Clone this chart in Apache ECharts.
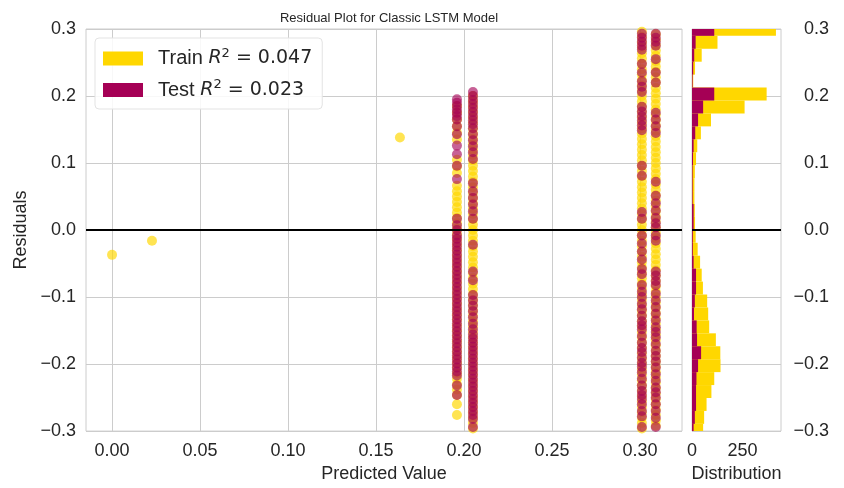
<!DOCTYPE html>
<html><head><meta charset="utf-8">
<script src="https://cdn.jsdelivr.net/npm/echarts@6/dist/echarts.min.js"></script>
<style>html,body{margin:0;padding:0;background:#fff}#c{width:844px;height:488px}</style>
</head><body><div id="c"></div>
<script>
const chartTitle = 'Residual Plot for Classic LSTM Model';
const trainR2 = 0.047, testR2 = 0.023;
const xTicks = [0, 0.05, 0.10, 0.15, 0.20, 0.25, 0.30];

// predicted-value columns
const colX = [0.196, 0.2051, 0.3011, 0.309];

// train residuals per column
const trainA = [0.185,0.175,0.165,0.155,0.145,0.135,0.105,0.095,0.085,0.066,0.058,0.05,0.042,0.034,0.026,0.018,0.01,0.002,-0.006,-0.014,-0.022,-0.03,-0.038,-0.046,-0.054,-0.062,-0.07,-0.078,-0.086,-0.094,-0.102,-0.11,-0.118,-0.126,-0.134,-0.142,-0.15,-0.158,-0.166,-0.174,-0.182,-0.19,-0.198,-0.206,-0.214,-0.222,-0.23,-0.238,-0.246,-0.26,-0.276];
const trainB = [0.2,0.192,0.184,0.176,0.168,0.16,0.152,0.144,0.136,0.128,0.12,0.112,0.104,0.096,0.088,0.08,0.072,0.064,0.056,0.048,0.04,0.032,0.024,0.016,0.008,0.0,-0.008,-0.016,-0.024,-0.032,-0.04,-0.048,-0.056,-0.064,-0.072,-0.08,-0.088,-0.096,-0.104,-0.112,-0.12,-0.128,-0.136,-0.144,-0.152,-0.16,-0.168,-0.176,-0.184,-0.192,-0.2,-0.208,-0.216,-0.224,-0.232,-0.24,-0.248,-0.256,-0.264,-0.272,-0.28,-0.288,-0.296];
const trainC = [0.296,0.288,0.28,0.272,0.264,0.256,0.248,0.24,0.232,0.224,0.216,0.208,0.2,0.192,0.184,0.176,0.168,0.16,0.152,0.144,0.136,0.128,0.12,0.112,0.104,0.096,0.088,0.08,0.072,0.064,0.056,0.048,0.04,0.032,0.024,0.016,0.008,0.0,-0.008,-0.016,-0.024,-0.032,-0.04,-0.048,-0.056,-0.064,-0.072,-0.08,-0.088,-0.096,-0.104,-0.112,-0.12,-0.128,-0.136,-0.144,-0.152,-0.16,-0.168,-0.176,-0.184,-0.192,-0.2,-0.208,-0.216,-0.224,-0.232,-0.24,-0.248,-0.256,-0.264,-0.272,-0.28,-0.288,-0.296];
const trainD = [0.292,0.284,0.276,0.268,0.26,0.252,0.244,0.236,0.228,0.22,0.212,0.204,0.196,0.188,0.18,0.172,0.164,0.156,0.148,0.14,0.132,0.124,0.116,0.108,0.1,0.092,0.084,0.076,0.068,0.06,0.052,0.044,0.036,0.028,0.02,0.012,0.004,-0.004,-0.012,-0.02,-0.028,-0.036,-0.044,-0.052,-0.06,-0.068,-0.076,-0.084,-0.092,-0.1,-0.108,-0.116,-0.124,-0.132,-0.14,-0.148,-0.156,-0.164,-0.172,-0.18,-0.188,-0.196,-0.204,-0.212,-0.22,-0.228,-0.236,-0.244,-0.252,-0.26,-0.268,-0.276,-0.284,-0.292];
// isolated train points
const trainOutX = [0.0, 0.0227, 0.1636];
const trainOutY = [-0.037, -0.016, 0.138];

// test residuals per column
const testA = [0.195,0.19,0.185,0.18,0.175,0.17,0.165,0.155,0.143,0.126,0.113,0.096,0.076,0.017,0.007,0.0,-0.008,-0.013,-0.019,-0.025,-0.031,-0.037,-0.043,-0.049,-0.055,-0.061,-0.067,-0.073,-0.079,-0.085,-0.091,-0.097,-0.103,-0.109,-0.115,-0.121,-0.127,-0.133,-0.139,-0.145,-0.151,-0.157,-0.163,-0.169,-0.175,-0.181,-0.187,-0.193,-0.199,-0.205,-0.211,-0.217,-0.232,-0.246];
const testB = [0.206,0.2,0.194,0.188,0.182,0.176,0.17,0.164,0.158,0.152,0.143,0.134,0.125,0.116,0.106,0.07,0.058,0.048,0.038,0.028,0.017,-0.022,-0.062,-0.075,-0.097,-0.105,-0.113,-0.121,-0.13,-0.14,-0.148,-0.156,-0.162,-0.168,-0.174,-0.18,-0.186,-0.192,-0.198,-0.204,-0.21,-0.216,-0.222,-0.228,-0.234,-0.24,-0.246,-0.252,-0.258,-0.264,-0.27,-0.276,-0.282,-0.294];
const testC = [0.293,0.287,0.281,0.275,0.269,0.248,0.235,0.222,0.214,0.206,0.184,0.177,0.17,0.163,0.156,0.149,0.096,0.081,0.027,0.017,-0.008,-0.02,-0.032,-0.044,-0.058,-0.066,-0.082,-0.092,-0.1,-0.11,-0.118,-0.128,-0.136,-0.142,-0.148,-0.158,-0.168,-0.176,-0.182,-0.19,-0.198,-0.204,-0.212,-0.222,-0.232,-0.24,-0.246,-0.252,-0.26,-0.27,-0.278,-0.294];
const testD = [0.293,0.287,0.281,0.275,0.255,0.235,0.22,0.175,0.165,0.155,0.145,0.072,0.051,0.04,0.029,0.018,0.01,0.004,-0.008,-0.016,-0.062,-0.068,-0.076,-0.082,-0.095,-0.105,-0.115,-0.125,-0.135,-0.145,-0.152,-0.16,-0.17,-0.18,-0.188,-0.196,-0.205,-0.215,-0.225,-0.235,-0.242,-0.25,-0.26,-0.27,-0.28,-0.294];

// histogram (bins from top, width binWidth)
const binTop = 0.3091, binWidth = 0.0193;
const trainCounts = [415,126,48,15,6,369,260,94,44,26,20,14,12,12,14,15,18,28,40,48,54,75,80,85,118,140,141,110,96,72,60,55];
const testCounts  = [110,18,11,6,3,110,55,30,16,8,5,3,3,3,8,8,4,4,8,20,20,14,10,23,25,45,30,22,20,20,14,8];

const TRAIN_COLOR = '#FFD700';
const TEST_COLOR = '#A50055';
const FONT = "'Liberation Sans', Arial, sans-serif";
const TXT = '#262626';

function cols(arrs) {
  const out = [];
  arrs.forEach((a, i) => a.forEach(r => out.push([colX[i], r])));
  return out;
}
const trainData = cols([trainA, trainB, trainC, trainD]);
trainOutX.forEach((x, i) => trainData.push([x, trainOutY[i]]));
const testData = cols([testA, testB, testC, testD]);

function bins(counts) {
  return counts.map((c, i) => {
    const hi = binTop - i * binWidth;
    return [hi - binWidth, hi, c];
  });
}
function histRender(params, api) {
  const lo = api.value(0), hi = api.value(1), c = api.value(2);
  const p1 = api.coord([0, hi]);
  const p2 = api.coord([c, lo]);
  return {type: 'rect', shape: {x: p1[0], y: p1[1], width: p2[0] - p1[0], height: p2[1] - p1[1]},
    style: {fill: api.visual('color')}};
}
const yFmt = v => (v < -1e-9 ? '\u2212' : '') + Math.abs(v).toFixed(1);

const chart = echarts.init(document.getElementById('c'), null, {renderer: 'canvas'});
const legendRich = {
  g: {width: 10},
  t: {fontFamily: FONT, fontSize: 20, color: TXT},
  r: {fontFamily: "'DejaVu Sans'", fontStyle: 'italic', fontSize: 19, color: TXT},
  s: {fontFamily: "'DejaVu Sans'", fontSize: 13, color: TXT, padding: [0, 0, 10, 0]},
  e: {fontFamily: "'DejaVu Sans'", fontSize: 19, color: TXT}
};
chart.setOption({
  animation: false,
  backgroundColor: '#fff',
  title: {text: chartTitle, left: 384, top: 7, textAlign: 'center',
    textStyle: {fontFamily: FONT, fontSize: 13, fontWeight: 'normal', color: TXT}},
  legend: {
    data: [{name: 'Train', itemStyle: {color: TRAIN_COLOR, opacity: 1}},
           {name: 'Test', itemStyle: {color: TEST_COLOR, opacity: 1}}],
    orient: 'vertical', left: 95, top: 38, icon: 'rect', itemWidth: 40, itemHeight: 14, itemGap: 10,
    backgroundColor: 'rgba(255,255,255,0.85)', borderColor: '#e3e3e3', borderWidth: 1, borderRadius: 4,
    padding: [9, 10, 9, 8],
    formatter: n => n === 'Train'
      ? `{g|}{t|Train }{r|R}{s|2}{e| = ${trainR2.toFixed(3)}}`
      : `{g|}{t|Test }{r|R}{s|2}{e| = ${testR2.toFixed(3)}}`,
    textStyle: {rich: legendRich}
  },
  grid: [
    {left: 86, top: 29, width: 596, height: 405, show: true, borderColor: '#cccccc', borderWidth: 1},
    {left: 692, top: 29, width: 89, height: 405, show: true, borderColor: '#cccccc', borderWidth: 1}
  ],
  xAxis: [
    {type: 'value', gridIndex: 0, min: -0.0148, max: 0.3239,
     name: 'Predicted Value', nameLocation: 'middle', nameGap: 28,
     nameTextStyle: {fontFamily: FONT, fontSize: 18, color: TXT},
     axisLine: {show: false}, axisTick: {show: false, customValues: xTicks},
     axisLabel: {customValues: xTicks, formatter: v => v.toFixed(2), fontFamily: FONT, fontSize: 18, color: TXT, margin: 11},
     splitLine: {show: true, lineStyle: {color: '#cccccc', width: 1}}},
    {type: 'value', gridIndex: 1, min: 0, max: 440, interval: 250,
     name: 'Distribution', nameLocation: 'middle', nameGap: 28,
     nameTextStyle: {fontFamily: FONT, fontSize: 18, color: TXT},
     axisLine: {show: false}, axisTick: {show: false},
     axisLabel: {fontFamily: FONT, fontSize: 18, color: TXT, margin: 11, showMaxLabel: false},
     splitLine: {show: false}}
  ],
  yAxis: [
    {type: 'value', gridIndex: 0, min: -0.3, max: 0.3, interval: 0.1,
     name: 'Residuals', nameLocation: 'middle', nameGap: 50,
     nameTextStyle: {fontFamily: FONT, fontSize: 18, color: TXT},
     axisLine: {show: false}, axisTick: {show: false},
     axisLabel: {formatter: yFmt, fontFamily: FONT, fontSize: 18, color: TXT, margin: 10},
     splitLine: {show: true, lineStyle: {color: '#cccccc', width: 1}}},
    {type: 'value', gridIndex: 1, position: 'right', min: -0.3, max: 0.3, interval: 0.1,
     axisLine: {show: false}, axisTick: {show: false},
     axisLabel: {formatter: yFmt, fontFamily: FONT, fontSize: 18, color: TXT, margin: 48, align: 'right'},
     splitLine: {show: true, lineStyle: {color: '#cccccc', width: 1}}}
  ],
  series: [
    {name: 'Train', type: 'scatter', xAxisIndex: 0, yAxisIndex: 0, data: trainData, symbolSize: 10,
     itemStyle: {color: TRAIN_COLOR, opacity: 0.68}, clip: true, z: 2},
    {name: 'Test', type: 'scatter', xAxisIndex: 0, yAxisIndex: 0, data: testData, symbolSize: 10,
     itemStyle: {color: TEST_COLOR, opacity: 0.62}, clip: true, z: 3,
     markLine: {silent: true, symbol: 'none', label: {show: false}, z: 5,
       lineStyle: {color: '#000', width: 2, type: 'solid'}, data: [{yAxis: 0}]}},
    {name: 'Train', type: 'custom', xAxisIndex: 1, yAxisIndex: 1, data: bins(trainCounts),
     renderItem: histRender, encode: {x: 2, y: [0, 1]}, clip: true, itemStyle: {color: TRAIN_COLOR}, z: 2},
    {name: 'Test', type: 'custom', xAxisIndex: 1, yAxisIndex: 1, data: bins(testCounts),
     renderItem: histRender, encode: {x: 2, y: [0, 1]}, clip: true, itemStyle: {color: TEST_COLOR}, z: 3,
     markLine: {silent: true, symbol: 'none', label: {show: false}, z: 5,
       lineStyle: {color: '#000', width: 2, type: 'solid'}, data: [{yAxis: 0}]}}
  ]
});
</script></body></html>
